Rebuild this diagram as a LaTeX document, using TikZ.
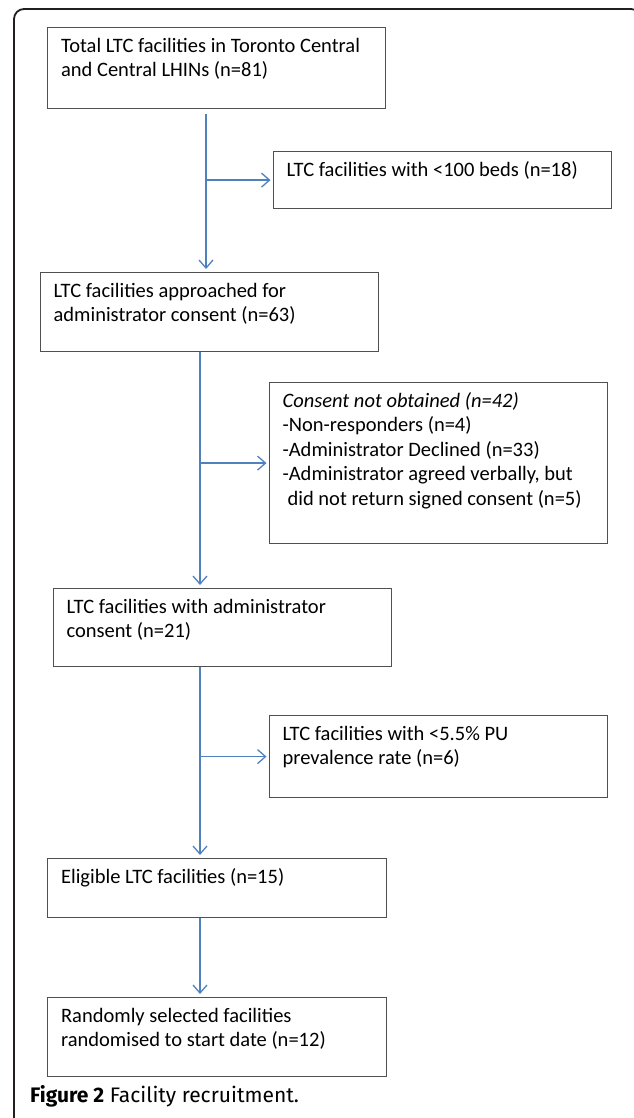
\documentclass[tikz,border=0pt]{standalone}
\usepackage{fontspec}
\setmainfont{Carlito}
\newfontfamily\capfont{Fira Sans}
\usetikzlibrary{arrows.meta}
\definecolor{arrowblue}{HTML}{4F81BD}
\definecolor{boxgray}{HTML}{505050}
\definecolor{framecol}{HTML}{231F20}
\newcommand{\bxt}[3]{\parbox[c][#2][t]{#1}{\vspace*{7.5pt}\raggedright\leftskip=13.5pt\relax\parindent=0pt\strut #3}}
\tikzset{
  box/.style={draw=boxgray, line width=1.2pt, inner sep=0pt, anchor=north west,
    font=\fontsize{20.5pt}{24.5pt}\selectfont},
  flow/.style={draw=arrowblue, line width=1.3pt,
    -{Straight Barb[length=8pt,width=14pt,line width=1.3pt]}},
  frame/.style={draw=framecol, line width=1.8pt, rounded corners=10pt}
}
\begin{document}
\begin{tikzpicture}[x=1pt,y=-1pt]
\useasboundingbox (0,0) rectangle (633,1118);
\draw[frame] (14,1130) -- (14,9) -- (641,9) -- (641,60);
\node[box] (b1) at (47,27) {\bxt{338pt}{81pt}{Total LTC facilities in Toronto Central\\ and Central LHINs (n=81)}};
\node[box] (b2) at (272.5,151) {\bxt{338.5pt}{57pt}{LTC facilities with <100 beds (n=18)}};
\node[box] (b3) at (39.5,272) {\bxt{338pt}{79pt}{LTC facilities approached for\\ administrator consent (n=63)}};
\node[box] (b4) at (268.5,382) {\bxt{338.5pt}{161pt}{\textit{Consent not obtained (n=42)}\\ -Non-responders (n=4)\\ -Administrator Declined (n=33)\\ -Administrator agreed verbally, but\\ \hspace*{5pt}did not return signed consent (n=5)}};
\node[box] (b5) at (52.5,588) {\bxt{338.5pt}{78pt}{LTC facilities with administrator\\ consent (n=21)}};
\node[box] (b6) at (268.5,715) {\bxt{338.5pt}{82pt}{LTC facilities with <5.5\% PU\\ prevalence rate (n=6)}};
\node[box] (b7) at (47,858) {\bxt{338.5pt}{59pt}{Eligible LTC facilities (n=15)}};
\node[box] (b8) at (47,997) {\bxt{338.5pt}{79pt}{Randomly selected facilities\\ randomised to start date (n=12)}};
\node[anchor=base west, inner sep=0pt, font=\capfont\fontsize{21pt}{24pt}\selectfont] (cap) at (30,1102) {\textbf{Figure 2} Facility recruitment.};
\coordinate (x1) at (206,0);
\coordinate (x2) at (200,0);
\draw[flow, shorten <=5pt, shorten >=3pt] (b1.south -| x1) -- (b3.north -| x1);
\draw[flow, shorten >=2pt] (x1 |- b2.west) -- (b2.west);
\draw[flow, shorten >=3pt] (b3.south -| x2) -- (b5.north -| x2);
\draw[flow, shorten >=2pt] (x2 |- b4.west) -- (b4.west);
\draw[flow, shorten >=3pt] (b5.south -| x2) -- (b7.north -| x2);
\draw[flow, shorten >=2pt] (x2 |- b6.west) -- (b6.west);
\draw[flow, shorten >=3pt] (b7.south -| x2) -- (b8.north -| x2);
\end{tikzpicture}
\end{document}
